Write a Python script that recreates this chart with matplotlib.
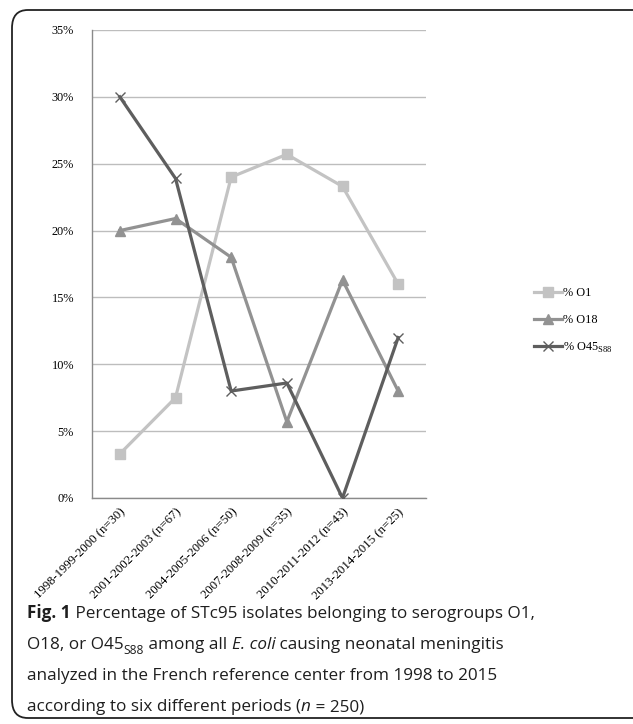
import matplotlib
matplotlib.use("Agg")
import matplotlib.pyplot as plt
from matplotlib.patches import FancyBboxPatch
from matplotlib.ticker import FuncFormatter

# data
periods = ["1998-1999-2000 (n=30)", "2001-2002-2003 (n=67)", "2004-2005-2006 (n=50)",
           "2007-2008-2009 (n=35)", "2010-2011-2012 (n=43)", "2013-2014-2015 (n=25)"]
o1 = [3.3, 7.5, 24.0, 25.7, 23.3, 16.0]
o18 = [20.0, 20.9, 18.0, 5.7, 16.3, 8.0]
o45 = [30.0, 23.9, 8.0, 8.6, 0.0, 12.0]
yticks = [0, 5, 10, 15, 20, 25, 30, 35]

W, H = 633, 724
fig = plt.figure(figsize=(W / 100, H / 100), dpi=100)

# rounded frame around the whole figure
frame = FancyBboxPatch((12 / W, 6 / H), 640 / W, 708 / H,
                       boxstyle="round,pad=0,rounding_size=0.025",
                       transform=fig.transFigure, fill=False,
                       edgecolor="#222222", linewidth=1.3)
fig.patches.append(frame)

ax = fig.add_axes([92 / W, 1 - 498 / H, 334 / W, 468 / H])
serif = "Liberation Serif"
x = list(range(len(periods)))

ax.plot(x, o1, color="#c3c3c3", marker="s", markersize=6.5, linewidth=2.3, label="% O1", zorder=3)
ax.plot(x, o18, color="#929292", marker="^", markersize=7, linewidth=2.3, label="% O18", zorder=3)
ax.plot(x, o45, color="#5e5e5e", marker="x", markersize=7, markeredgewidth=1.0,
        linewidth=2.3, label="% O45$_{\\mathregular{S88}}$", zorder=3)

ax.set_xlim(-0.5, len(periods) - 0.5)
ax.set_ylim(0, 35)
ax.set_yticks(yticks)
ax.yaxis.set_major_formatter(FuncFormatter(lambda v, p: f"{int(v)}%"))
ax.grid(axis="y", color="#bdbdbd", linewidth=1.0)
ax.set_axisbelow(True)
for s in ["top", "right"]:
    ax.spines[s].set_visible(False)
for s in ["left", "bottom"]:
    ax.spines[s].set_color("#8a8a8a")
    ax.spines[s].set_linewidth(1.0)
ax.tick_params(length=0, pad=13)
ax.tick_params(axis="x", pad=6)
ax.set_xticks(x)
ax.set_xticklabels(periods, rotation=45, ha="right", rotation_mode="anchor",
                   fontsize=9.2, family=serif)
for lab in ax.get_yticklabels():
    lab.set_family(serif)
    lab.set_fontsize(8.8)

leg = fig.legend(loc="center left", bbox_to_anchor=(528 / W, 1 - 321 / H), frameon=False,
                 prop={"family": serif, "size": 8.8}, handlelength=2.3, handletextpad=0.1,
                 labelspacing=1.2, borderpad=0)

# caption with mixed styles, drawn piece by piece
fig.canvas.draw()
renderer = fig.canvas.get_renderer()
cap_font = "Open Sans"
cap_size = 12.3


def draw_line(parts, x0, y0):
    xpos = x0
    for txt, kw in parts:
        yy = y0
        size = cap_size
        if kw.get("sub"):
            size = cap_size * 0.7
            yy = y0 - 5 / H
        t = fig.text(xpos, yy, txt, fontsize=size, family=cap_font,
                     weight=kw.get("weight", "normal"), style=kw.get("style", "normal"),
                     color="#1e1e1e", va="baseline", ha="left")
        bb = t.get_window_extent(renderer)
        xpos += bb.width / W


lines = [
    [("Fig. 1", {"weight": "bold"}), (" Percentage of STc95 isolates belonging to serogroups O1,", {})],
    [("O18, or O45", {}), ("S88", {"sub": True}), (" among all ", {}), ("E. coli", {"style": "italic"}),
     (" causing neonatal meningitis", {})],
    [("analyzed in the French reference center from 1998 to 2015", {})],
    [("according to six different periods (", {}), ("n", {"style": "italic"}), (" = 250)", {})],
]
base = [618, 649, 680, 711]
for parts, b in zip(lines, base):
    draw_line(parts, 27 / W, 1 - b / H)

fig.savefig("out.png", dpi=100)
